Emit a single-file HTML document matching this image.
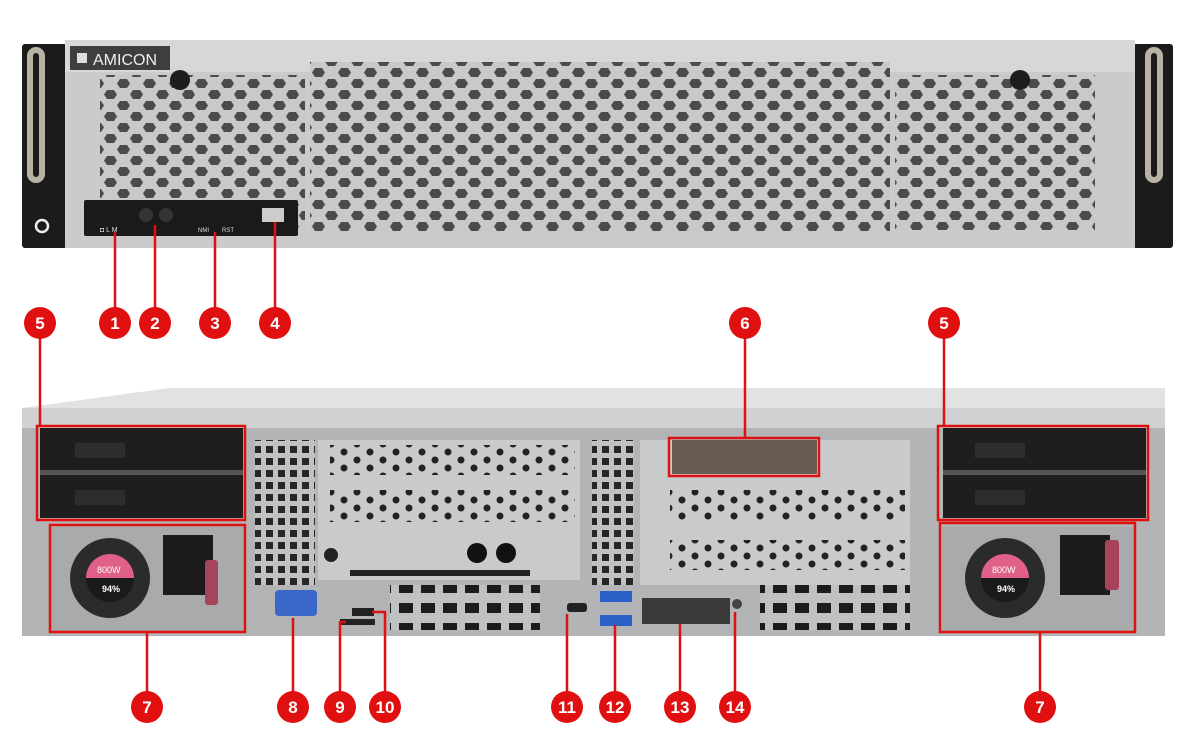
<!DOCTYPE html>
<html><head><meta charset="utf-8"><style>
html,body{margin:0;padding:0;background:#fff;width:1196px;height:749px;overflow:hidden}
text{font-family:"Liberation Sans",sans-serif}
</style></head><body>
<svg width="1196" height="749" viewBox="0 0 1196 749" xmlns="http://www.w3.org/2000/svg">
<defs>
<pattern id="hex" width="26" height="22" patternUnits="userSpaceOnUse">
<rect width="26" height="22" fill="#c8c9cb"/>
<polygon points="3,2 10,2 13,6.5 10,11 3,11 0,6.5" fill="#4a4b4d"/>
<polygon points="16,13 23,13 26,17.5 23,22 16,22 13,17.5" fill="#4a4b4d"/>
</pattern>
<pattern id="dots" width="26" height="16" patternUnits="userSpaceOnUse">
<rect width="26" height="16" fill="#c9cacc"/>
<circle cx="6" cy="4" r="3.5" fill="#222"/><circle cx="19" cy="12" r="3.5" fill="#222"/>
</pattern>
<pattern id="grid" width="12" height="12" patternUnits="userSpaceOnUse">
<rect width="12" height="12" fill="#c0c1c3"/><rect x="2" y="2" width="7" height="7" fill="#262626"/>
</pattern>
<pattern id="slots" width="22" height="20" patternUnits="userSpaceOnUse">
<rect width="22" height="20" fill="#c0c1c3"/><rect x="3" y="3" width="14" height="10" fill="#1c1c1c"/>
</pattern>
</defs>

<!-- FRONT -->
<rect x="22" y="44" width="45" height="204" fill="#1b1b1b" rx="3"/>
<rect x="1133" y="44" width="40" height="204" fill="#1b1b1b" rx="3"/>
<rect x="30" y="50" width="12" height="130" rx="6" fill="none" stroke="#b9b3a5" stroke-width="6"/>
<rect x="1148" y="50" width="12" height="130" rx="6" fill="none" stroke="#b9b3a5" stroke-width="6"/>
<circle cx="42" cy="226" r="6" fill="none" stroke="#eee" stroke-width="2.5"/>
<rect x="65" y="40" width="1070" height="208" fill="#cacbcd"/>
<rect x="65" y="40" width="1070" height="32" fill="#d6d7d8"/>
<rect x="100" y="75" width="205" height="155" fill="url(#hex)"/>
<rect x="310" y="62" width="580" height="170" fill="url(#hex)"/>
<rect x="895" y="75" width="200" height="155" fill="url(#hex)"/>
<rect x="70" y="46" width="100" height="24" fill="#3d3e40"/>
<rect x="77" y="53" width="10" height="10" fill="#ddd"/>
<text x="93" y="65" font-size="16" fill="#eee">AMICON</text>
<circle cx="180" cy="80" r="10" fill="#1d1d1d"/>
<circle cx="1020" cy="80" r="10" fill="#1d1d1d"/>
<rect x="84" y="200" width="214" height="36" fill="#1a1a1a" rx="2"/>
<circle cx="146" cy="215" r="7" fill="#333"/><circle cx="166" cy="215" r="7" fill="#333"/>
<rect x="262" y="208" width="22" height="14" fill="#ccc"/>
<text x="198" y="232" font-size="6" fill="#ddd">NMI</text><text x="222" y="232" font-size="6" fill="#ddd">RST</text>
<text x="100" y="232" font-size="7" fill="#ddd">◘ L M</text>

<!-- REAR -->
<polygon points="22,408 170,388 1165,388 1165,410 22,410" fill="#e2e2e2"/>
<rect x="22" y="408" width="1143" height="228" fill="#b3b4b6"/>
<rect x="22" y="408" width="1143" height="20" fill="#d0d1d3"/>
<rect x="255" y="440" width="60" height="145" fill="url(#grid)"/>
<rect x="592" y="440" width="42" height="145" fill="url(#grid)"/>
<rect x="318" y="440" width="262" height="140" fill="#c9cacc"/>
<rect x="330" y="445" width="245" height="30" fill="url(#dots)"/>
<rect x="330" y="490" width="245" height="32" fill="url(#dots)"/>
<rect x="640" y="440" width="270" height="145" fill="#c9cacc"/>
<rect x="670" y="490" width="235" height="30" fill="url(#dots)"/>
<rect x="670" y="540" width="235" height="30" fill="url(#dots)"/>
<rect x="390" y="585" width="150" height="45" fill="url(#slots)"/>
<rect x="760" y="585" width="150" height="45" fill="url(#slots)"/>
<rect x="672" y="440" width="145" height="34" fill="#6a5c50"/>
<rect x="642" y="598" width="88" height="26" fill="#3a3a3a"/>
<circle cx="331" cy="555" r="7" fill="#222"/><circle cx="477" cy="553" r="10" fill="#111"/><circle cx="506" cy="553" r="10" fill="#111"/>
<rect x="350" y="570" width="180" height="6" fill="#222"/>
<rect x="275" y="590" width="42" height="26" rx="4" fill="#3a66c8"/>
<rect x="352" y="608" width="22" height="8" fill="#222"/>
<rect x="340" y="619" width="35" height="6" fill="#222"/>
<rect x="567" y="603" width="20" height="9" rx="3" fill="#222"/>
<rect x="600" y="591" width="32" height="11" fill="#2a62c8"/><rect x="600" y="615" width="32" height="11" fill="#2a62c8"/>
<circle cx="737" cy="604" r="5" fill="#444"/>
<!-- drives -->
<rect x="40" y="428" width="203" height="90" fill="#1e1e1e"/>
<rect x="40" y="470" width="203" height="5" fill="#555"/>
<rect x="75" y="443" width="50" height="15" fill="#2d2d2d"/><rect x="75" y="490" width="50" height="15" fill="#2d2d2d"/>
<rect x="943" y="428" width="203" height="90" fill="#1e1e1e"/>
<rect x="943" y="470" width="203" height="5" fill="#555"/>
<rect x="975" y="443" width="50" height="15" fill="#2d2d2d"/><rect x="975" y="490" width="50" height="15" fill="#2d2d2d"/>
<!-- PSUs -->
<rect x="50" y="527" width="195" height="105" fill="#a9aaac"/>
<circle cx="110" cy="578" r="40" fill="#2b2b2b"/>
<circle cx="110" cy="578" r="24" fill="#1a1a1a"/><path d="M86 578 A24 24 0 0 1 134 578 Z" fill="#e06088"/>
<text x="97" y="573" font-size="9" fill="#fff">800W</text><text x="102" y="592" font-size="9" fill="#fff" font-weight="bold">94%</text>
<rect x="163" y="535" width="50" height="60" fill="#1c1c1c"/><rect x="205" y="560" width="13" height="45" rx="3" fill="#a8435c"/>
<rect x="942" y="527" width="192" height="105" fill="#a9aaac"/>
<circle cx="1005" cy="578" r="40" fill="#2b2b2b"/>
<circle cx="1005" cy="578" r="24" fill="#1a1a1a"/><path d="M981 578 A24 24 0 0 1 1029 578 Z" fill="#e06088"/>
<text x="992" y="573" font-size="9" fill="#fff">800W</text><text x="997" y="592" font-size="9" fill="#fff" font-weight="bold">94%</text>
<rect x="1060" y="535" width="50" height="60" fill="#1c1c1c"/><rect x="1105" y="540" width="14" height="50" rx="3" fill="#a8435c"/>

<!-- red highlight boxes -->
<g fill="none" stroke="#e01010" stroke-width="2.5">
<rect x="37" y="426" width="208" height="94"/>
<rect x="50" y="525" width="195" height="107"/>
<rect x="938" y="426" width="210" height="94"/>
<rect x="940" y="523" width="195" height="109"/>
<rect x="669" y="438" width="150" height="38"/>
<path d="M40 323V426M944 323V426M745 323V438M115 323V232M155 323V225M215 323V232M275 323V222"/>
<path d="M147 707V632M293 707V618M340 707V622H346M385 707V612H372M567 707V614M615 707V625M680 707V624M735 707V612M1040 707V632"/>
</g>
<g fill="#e01010">
<circle cx="40" cy="323" r="16"/><circle cx="115" cy="323" r="16"/><circle cx="155" cy="323" r="16"/><circle cx="215" cy="323" r="16"/><circle cx="275" cy="323" r="16"/><circle cx="745" cy="323" r="16"/><circle cx="944" cy="323" r="16"/>
<circle cx="147" cy="707" r="16"/><circle cx="293" cy="707" r="16"/><circle cx="340" cy="707" r="16"/><circle cx="385" cy="707" r="16"/><circle cx="567" cy="707" r="16"/><circle cx="615" cy="707" r="16"/><circle cx="680" cy="707" r="16"/><circle cx="735" cy="707" r="16"/><circle cx="1040" cy="707" r="16"/>
</g>
<g fill="#fff" font-size="17" font-weight="bold" text-anchor="middle">
<text x="40" y="329">5</text><text x="115" y="329">1</text><text x="155" y="329">2</text><text x="215" y="329">3</text><text x="275" y="329">4</text><text x="745" y="329">6</text><text x="944" y="329">5</text>
<text x="147" y="713">7</text><text x="293" y="713">8</text><text x="340" y="713">9</text><text x="385" y="713">10</text><text x="567" y="713">11</text><text x="615" y="713">12</text><text x="680" y="713">13</text><text x="735" y="713">14</text><text x="1040" y="713">7</text>
</g>
</svg>
</body></html>
